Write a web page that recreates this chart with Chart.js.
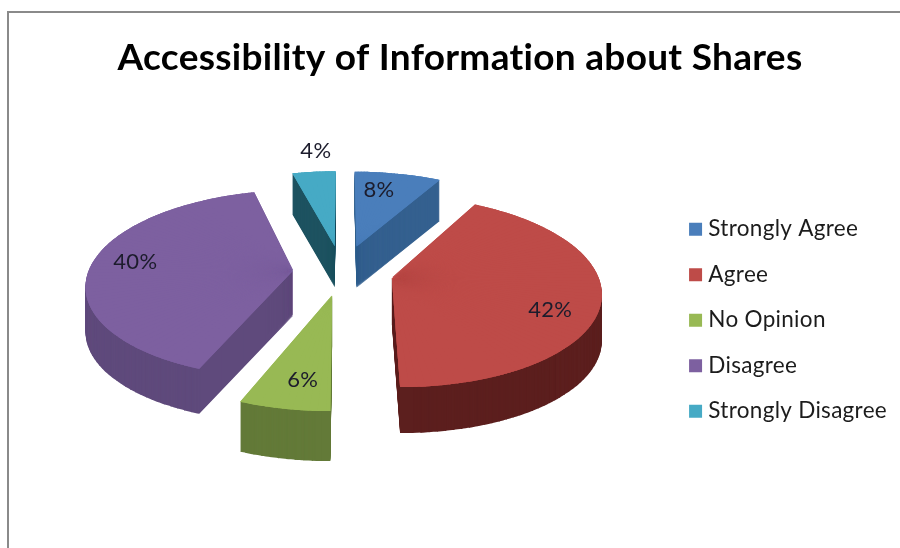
<!DOCTYPE html>
<html>
<head>
<meta charset="utf-8">
<title>Accessibility of Information about Shares</title>
<script src="https://cdn.jsdelivr.net/npm/chart.js@4"></script>
<style>
    html, body { margin: 0; background: #fff; }
    #wrap { position: relative; width: 900px; height: 548px; overflow: hidden; }
    #frame { position: absolute; left: 7px; top: 11px; width: 900px; height: 600px;
             border-left: 2px solid #8a8a8a; border-top: 2px solid #8a8a8a; }
    canvas { position: absolute; left: 0; top: 0; }
</style>
</head>
<body>
<div id="wrap">
    <div id="frame"></div>
    <canvas id="chart" width="900" height="548"></canvas>
</div>
<script>
const categories = ["Strongly Agree", "Agree", "No Opinion", "Disagree", "Strongly Disagree"];
const percentValues = [8, 42, 6, 40, 4];
const topColors = ["#4a7ebb", "#be4b48", "#98b954", "#7d60a0", "#46aac5"];
const sideColors = ["#34608f", "#5c1f1e", "#637a38", "#5f4a7c", "#1d5260"];
const explodePx = [60, 51, 51, 49, 60];

// where each % label sits inside its slice: degrees away from the slice middle, fraction of radius
const labelAngleShift = [-4, 10, -2, 3, 2];
const labelRadiusFrac = [0.74, 0.79, 0.77, 0.79, 1.32];

// pie lies on a plane seen in perspective: d = viewer distance, b = vertical squash
const camera = { cx: 342, cy: 272, b: 0.45, d: 1460 };
const PIE_RADIUS = 205;
const PIE_DEPTH = 45;
const STRIP = Math.PI / 90;

function project(u, v) {
    const w = 1 - v / camera.d;
    return { x: camera.cx + u / w, y: camera.cy + camera.b * v / w, w };
}

// One thin wedge of the arc, mapped exactly onto its projected triangle
function drawStrip(ctx, arc, start, end, apexU, apexV, color, dy) {
    const R = arc.outerRadius;
    const p0 = project(apexU, apexV);
    const p1 = project(apexU + R * Math.cos(start), apexV + R * Math.sin(start));
    const p2 = project(apexU + R * Math.cos(end), apexV + R * Math.sin(end));
    const r1 = [R * Math.cos(start), R * Math.sin(start)];
    const r2 = [R * Math.cos(end), R * Math.sin(end)];
    const s1 = [p1.x - p0.x, p1.y - p0.y];
    const s2 = [p2.x - p0.x, p2.y - p0.y];
    const det = r1[0] * r2[1] - r2[0] * r1[1];
    const a = (s1[0] * r2[1] - s2[0] * r1[1]) / det;
    const b = (s1[1] * r2[1] - s2[1] * r1[1]) / det;
    const c = (s2[0] * r1[0] - s1[0] * r2[0]) / det;
    const d = (s2[1] * r1[0] - s1[1] * r2[0]) / det;

    const piece = Object.create(arc);
    piece.startAngle = start;
    piece.endAngle = end;
    piece.circumference = end - start;
    piece.options = Object.assign({}, arc.options, { offset: 0, backgroundColor: color });

    ctx.save();
    ctx.translate(p0.x, p0.y + dy);
    ctx.transform(a, b, c, d, 0, 0);
    ctx.translate(-arc.x, -arc.y);
    piece.draw(ctx);
    ctx.restore();
}

// firstStrip lets a second pass put its seams in the middle of the first pass's strips
function drawWedge(ctx, arc, color, dy, firstStrip = STRIP) {
    const mid = (arc.startAngle + arc.endAngle) / 2;
    const explode = arc.options.offset / 4;
    const apexU = explode * Math.cos(mid);
    const apexV = explode * Math.sin(mid);
    let a = arc.startAngle;
    let end = Math.min(a + firstStrip, arc.endAngle);
    while (a < arc.endAngle) {
        // small overlap hides the seam between neighbouring strips
        drawStrip(ctx, arc, a, Math.min(end + 0.006, arc.endAngle), apexU, apexV, color, dy);
        a = end;
        end = Math.min(a + STRIP, arc.endAngle);
    }
}

const pie3d = {
    id: "pie3d",
    // non-zero spacing also switches off the "ti" ligature, the reference has none
    beforeUpdate(chart) { chart.ctx.letterSpacing = "0.3px"; },
    beforeDraw(chart) { chart.ctx.letterSpacing = "0.3px"; },
    beforeDatasetDraw(chart, args) {
        const ctx = chart.ctx;
        const arcs = chart.getDatasetMeta(args.index).data;
        const order = arcs.map((_, i) => i).sort((i, j) =>
            Math.sin((arcs[i].startAngle + arcs[i].endAngle) / 2) - Math.sin((arcs[j].startAngle + arcs[j].endAngle) / 2));

        order.forEach(i => {
            const arc = arcs[i];
            const mid = (arc.startAngle + arc.endAngle) / 2;
            const explode = arc.options.offset / 4;
            // wall height follows the perspective, taken halfway out along the slice
            const halfway = project(0, (explode + arc.outerRadius / 2) * Math.sin(mid));
            const depth = Math.round(PIE_DEPTH / halfway.w);
            for (let dy = depth; dy > 0; dy--) {
                drawWedge(ctx, arc, sideColors[i], dy);
            }
            drawWedge(ctx, arc, topColors[i], 0);
            drawWedge(ctx, arc, topColors[i], 0, STRIP / 2);
        });

        ctx.save();
        ctx.font = "22px Lato";
        ctx.fillStyle = "#1c1c2c";
        ctx.textAlign = "center";
        ctx.textBaseline = "middle";
        arcs.forEach((arc, i) => {
            const mid = (arc.startAngle + arc.endAngle) / 2;
            const explode = arc.options.offset / 4;
            const ang = mid + labelAngleShift[i] * Math.PI / 180;
            const r = arc.outerRadius * labelRadiusFrac[i];
            const p = project(explode * Math.cos(mid) + r * Math.cos(ang), explode * Math.sin(mid) + r * Math.sin(ang));
            ctx.fillText(percentValues[i] + "%", p.x, p.y);
        });
        ctx.restore();
        return false;
    }
};

new Chart(document.getElementById("chart"), {
    type: "pie",
    plugins: [pie3d],
    data: {
        labels: categories,
        datasets: [{
            data: percentValues,
            backgroundColor: topColors,
            borderWidth: 0,
            offset: explodePx.map(e => e * 4)
        }]
    },
    options: {
        responsive: false,
        animation: false,
        events: [],
        radius: PIE_RADIUS,
        layout: { padding: { left: 23, right: 3, top: 0, bottom: 0 } },
        plugins: {
            tooltip: { enabled: false },
            title: {
                display: true,
                text: "Accessibility of Information about Shares",
                color: "#000",
                font: { family: "Lato", size: 37, weight: "bold" },
                padding: { top: 36, bottom: 12 }
            },
            legend: {
                position: "right",
                fullSize: false,
                labels: {
                    color: "#1c1c1c",
                    font: { family: "Lato", size: 22.5 },
                    // tiny box plus a thick stroke keeps the swatch 13px but closer to its text
                    boxWidth: 3,
                    boxHeight: 3,
                    padding: 23,
                    generateLabels(chart) {
                        return Chart.overrides.pie.plugins.legend.labels.generateLabels(chart).map((item, i) =>
                            Object.assign(item, { lineWidth: 10, strokeStyle: topColors[i] }));
                    }
                }
            }
        }
    }
});
</script>
</body>
</html>
